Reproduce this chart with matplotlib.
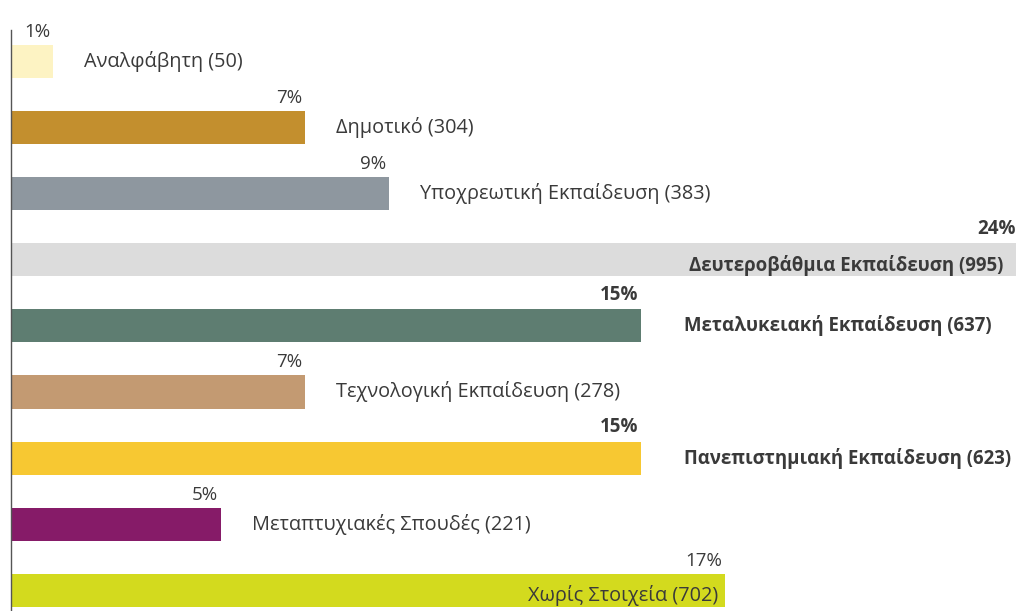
import numpy as np
import matplotlib.pyplot as plt

plt.rcParams['font.family'] = ['Open Sans', 'DejaVu Sans']

# data
categories = ['Αναλφάβητη', 'Δημοτικό', 'Υποχρεωτική Εκπαίδευση',
              'Δευτεροβάθμια Εκπαίδευση', 'Μεταλυκειακή Εκπαίδευση',
              'Τεχνολογική Εκπαίδευση', 'Πανεπιστημιακή Εκπαίδευση',
              'Μεταπτυχιακές Σπουδές', 'Χωρίς Στοιχεία']
counts = [50, 304, 383, 995, 637, 278, 623, 221, 702]
percents = [1, 7, 9, 24, 15, 7, 15, 5, 17]

colors = ['#FDF3C3', '#C38F2E', '#8E979F', '#DCDCDC', '#5E7D71',
          '#C39A72', '#F7C832', '#861B68', '#D3DA1E']
bold = [False, False, False, True, True, False, True, False, False]
inside = [False, False, False, True, False, False, False, False, True]

W, H = 1016, 611
fig = plt.figure(figsize=(W / 100, H / 100), dpi=100)
ax = fig.add_axes([0, 0, 1, 1])

pxu = 42.0          # pixels per percent
x0 = 11             # axis position in px
pitch = 66.1
y_first = 61.5

ax.set_xlim(-x0 / pxu, (W - x0) / pxu)
ax.set_ylim((H - y_first) / pitch, -y_first / pitch)

y = np.arange(len(categories))
ax.barh(y, percents, height=0.5, color=colors)

txt = '#3a3a3a'
fs = 14.3
fs_bold = 13.4
for i, (cat, n, p) in enumerate(zip(categories, counts, percents)):
    w = 'bold' if bold[i] else 'normal'
    size = fs_bold if bold[i] else fs
    ax.annotate(f'{p}%', (p, i - 0.25), xytext=(-2, 3), textcoords='offset points',
                ha='right', va='bottom', fontsize=13.5, color=txt, fontweight=w,
                annotation_clip=False)
    label = f'{cat} ({n})'
    if inside[i]:
        ax.annotate(label, (min(p, 23.8), i), xytext=(-5, -4), textcoords='offset points',
                    ha='right', va='center', fontsize=size, color=txt, fontweight=w,
                    annotation_clip=False)
    else:
        off = 31 if bold[i] else 22
        ax.annotate(label, (p, i), xytext=(off, 0), textcoords='offset points',
                    ha='left', va='center', fontsize=size, color=txt, fontweight=w,
                    annotation_clip=False)

ax.axvline(0, ymin=0, ymax=(H - 30) / H, color='#555555', lw=1)
ax.set_axis_off()

fig.savefig('out.png', dpi=100, facecolor='white')
